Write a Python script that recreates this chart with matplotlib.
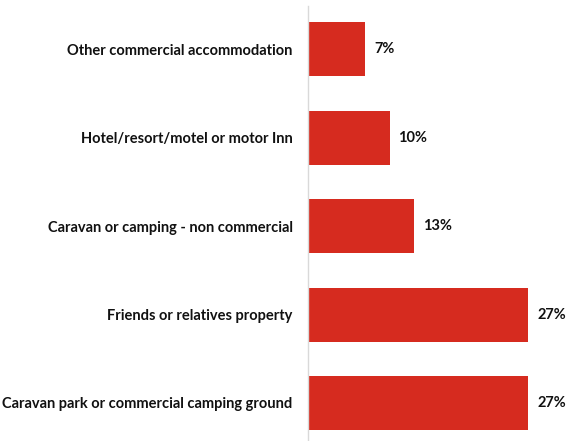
import matplotlib
matplotlib.use('Agg')
import matplotlib.pyplot as plt

# datos (de abajo hacia arriba)
categorias = ['Caravan park or commercial camping ground',
              'Friends or relatives property',
              'Caravan or camping - non commercial',
              'Hotel/resort/motel or motor Inn',
              'Other commercial accommodation']
valores = [27, 27, 13, 10, 7]
etiquetas = ['27%', '27%', '13%', '10%', '7%']

plt.rcParams['font.family'] = ['Lato', 'DejaVu Sans']

fig = plt.figure(figsize=(5.66, 4.41), dpi=100)
ax = fig.add_axes([308 / 566, 0, 244.5 / 566, 435 / 441])

pos = range(len(categorias))
barras = ax.barh(pos, valores, height=0.61, color='#D62B1F')

for b, txt in zip(barras, etiquetas):
    ax.text(b.get_width() + 1.1, b.get_y() + b.get_height() / 2, txt,
            va='center', ha='left', fontsize=10.5, fontweight='bold', color='#111111')

ax.set_yticks(list(pos))
ax.set_yticklabels(categorias, fontsize=10.5, fontweight='bold', color='#111111')
ax.tick_params(axis='y', length=0, pad=11)
ax.set_xticks([])
ax.set_xlim(0, 30)
ax.set_ylim(-0.43, 4.49)

for s in ['top', 'right', 'bottom']:
    ax.spines[s].set_visible(False)
ax.spines['left'].set_color('#D9D9D9')
ax.spines['left'].set_linewidth(1)

fig.savefig('out.png', dpi=100)
